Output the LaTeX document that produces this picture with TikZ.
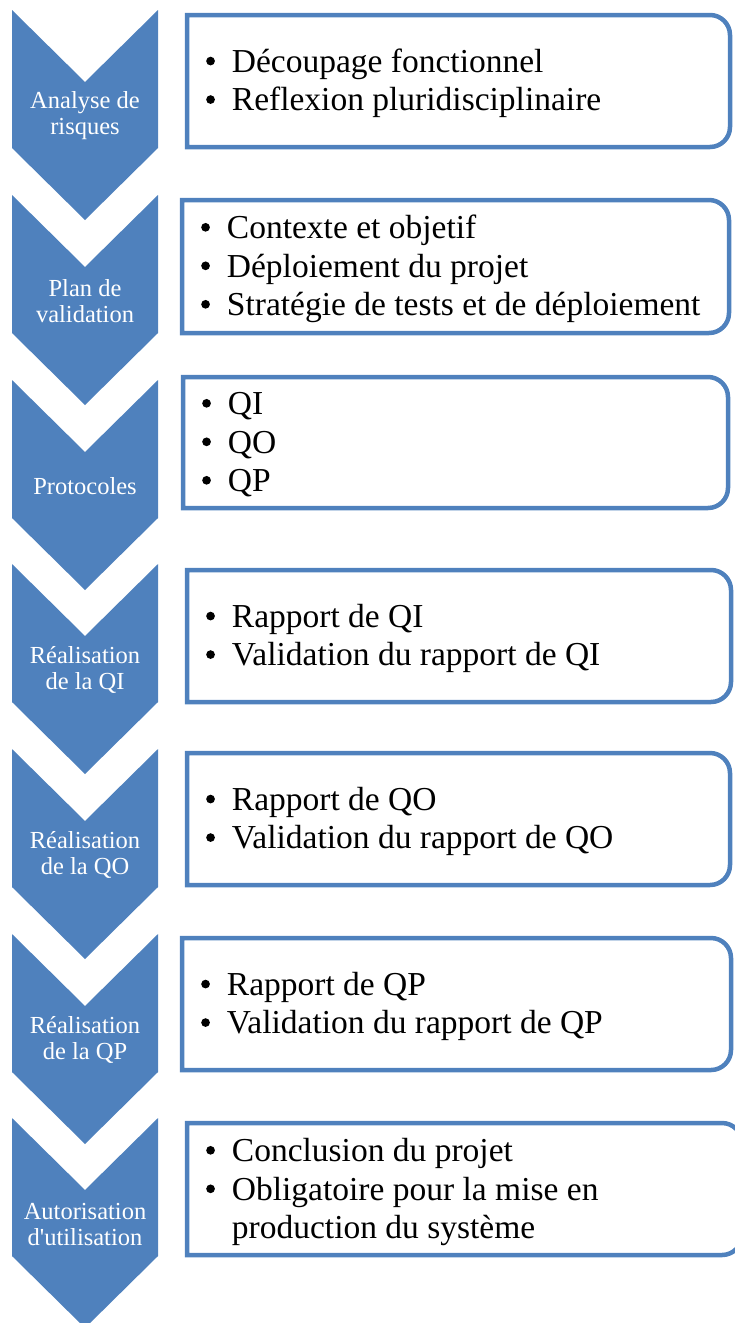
\documentclass[tikz,border=0pt]{standalone}
\usepackage{fontspec}
\setmainfont{Liberation Serif}
\newfontfamily\stepfont{Liberation Serif}
\definecolor{stepblue}{RGB}{79,129,189}
\newcommand\bulletlist[1]{\begin{tabular}{@{}l@{\hspace{17pt}}l@{}}#1\end{tabular}}
\newcommand\bul{\tikz[baseline=-0.34em]\fill[black] (0pt,0pt) circle[radius=0.13em];}

\begin{document}
\begin{tikzpicture}[
        x=1pt, y=-1pt,
        chevron/.style={fill=stepblue},
        steplabel/.style={text=white, align=center, font=\stepfont\fontsize{24.5}{26}\selectfont},
        itembox/.style={draw=stepblue, line width=4.5pt},
        items/.style={anchor=west, inner sep=0pt, font=\fontsize{33.5}{38.5}\selectfont}
        ]
        \useasboundingbox (0,0) rectangle (734,1323);

        % Define the chevrons
        \foreach \n/\ytop/\txt in {1/10/{Analyse de\\risques}, 2/195/{Plan de\\validation},
            3/380/{Protocoles}, 4/564/{Réalisation\\de la QI}, 5/749/{Réalisation\\de la QO},
            6/934/{Réalisation\\de la QP}, 7/1118/{Autorisation\\d'utilisation}} {
          \fill[chevron] (12,\ytop) -- (85,\ytop+72) -- (158,\ytop) -- (158,\ytop+138)
              -- (85,\ytop+210) -- (12,\ytop+138) -- cycle;
          \node[steplabel] (s\n) at (85,\ytop+106) {\txt};
        }

        % Draw the boxes
        \foreach \n/\xl/\yt/\xr/\yb in {1/187/15/730/147, 2/182/200/729/333, 3/183/377/728/508,
            4/187/570/731/702, 5/187/753/730/885, 6/182/938/731/1070, 7/187/1123/742/1255} {
          \draw[itembox] (\xl,\yb) -- (\xl,\yt) -- (\xr-20,\yt) arc[start angle=-90, end angle=0, radius=20]
              -- (\xr,\yb-20) arc[start angle=0, end angle=90, radius=20] -- cycle;
        }

        % Define the items
        \node[items] (i1) at (206,84) {\bulletlist{
            \bul & Découpage fonctionnel\\
            \bul & Reflexion pluridisciplinaire}};
        \node[items] (i2) at (201,269.5) {\bulletlist{
            \bul & Contexte et objetif\\
            \bul & Déploiement du projet\\
            \bul & Stratégie de tests et de déploiement}};
        \node[items] (i3) at (202,445.5) {\bulletlist{
            \bul & QI\\
            \bul & QO\\
            \bul & QP}};
        \node[items] (i4) at (206,639) {\bulletlist{
            \bul & Rapport de QI\\
            \bul & Validation du rapport de QI}};
        \node[items] (i5) at (206,822) {\bulletlist{
            \bul & Rapport de QO\\
            \bul & Validation du rapport de QO}};
        \node[items] (i6) at (201,1007) {\bulletlist{
            \bul & Rapport de QP\\
            \bul & Validation du rapport de QP}};
        \node[items] (i7) at (206,1192.5) {\bulletlist{
            \bul & Conclusion du projet\\
            \bul & Obligatoire pour la mise en\\
                 & production du système}};
    \end{tikzpicture}
\end{document}
